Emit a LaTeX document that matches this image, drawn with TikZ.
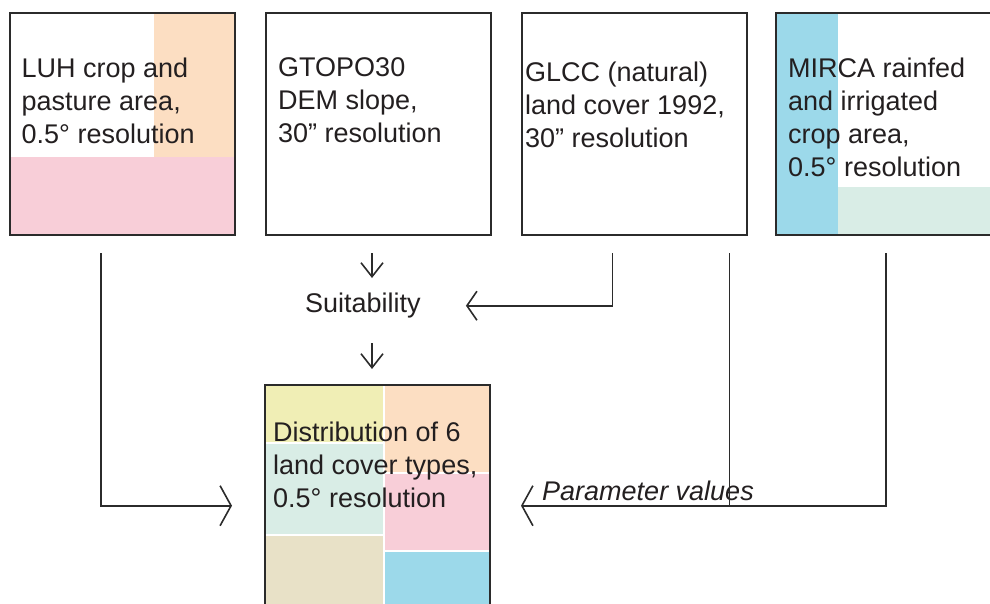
\documentclass[tikz,border=0pt]{standalone}
\usepackage{fontspec}
\setmainfont{Liberation Sans}
\usetikzlibrary{arrows.meta,calc}
\definecolor{txt}{HTML}{231F20}
\definecolor{ln}{HTML}{2B2B2B}
\definecolor{peach}{HTML}{FCDEC2}
\definecolor{pinkc}{HTML}{F8CED8}
\definecolor{bluec}{HTML}{9CD9EA}
\definecolor{mint}{HTML}{D9EDE6}
\definecolor{yel}{HTML}{F0EEB5}
\definecolor{tanc}{HTML}{E8E1C7}
\begin{document}
\begin{tikzpicture}[x=1pt,y=-1pt,
  box/.style={draw=ln, line width=2pt, minimum width=225pt, minimum height=222pt, inner sep=0pt},
  lbl/.style={text=txt, font=\fontsize{27}{33}\selectfont, align=left, anchor=base west, inner sep=0pt},
  conn/.style={draw=ln, line width=1.6pt},
  bigtip/.style={-{Straight Barb[length=11pt,width=40pt]}},
  midtip/.style={-{Straight Barb[length=10pt,width=29pt]}},
  smalltip/.style={-{Straight Barb[length=14pt,width=22pt]}}
]
\useasboundingbox (0,0) rectangle (990,603);
\clip (0,0) rectangle (990,603);
% colour patches
\fill[peach] (154,14) rectangle (234,156.5);
\fill[pinkc] (11,157) rectangle (234,234);
\fill[bluec] (777,14) rectangle (838,234);
\fill[mint] (838,187) rectangle (1000,234);
\fill[yel] (266,386) rectangle (383,442);
\fill[mint] (266,444) rectangle (383,534);
\fill[tanc] (266,536) rectangle (383,610);
\fill[peach] (385,386) rectangle (489,472);
\fill[pinkc] (385,474) rectangle (489,550);
\fill[bluec] (385,552) rectangle (489,610);
% boxes
\node[box] (luh) at (122.5,124) {};
\node[box] (gtopo) at (378,124) {};
\node[box] (glcc) at (634,124) {};
\node[box] (mirca) at (888.5,124) {};
\node[box, minimum height=241.4pt] (dist) at (377.5,505.7) {};
% texts (anchored at the baseline of the last line)
\node[lbl] (luht) at (21.5,143) {LUH crop and\\pasture area,\\0.5° resolution};
\node[lbl] (gtopot) at (278,142.5) {GTOPO30\\DEM slope,\\30” resolution};
\node[lbl] (glcct) at (525,147) {GLCC (natural)\\land cover 1992,\\30” resolution};
\node[lbl] (mircat) at (788,176) {MIRCA rainfed\\and irrigated\\crop area,\\0.5° resolution};
\node[lbl] (distt) at (273,507) {Distribution of 6\\land cover types,\\0.5° resolution};
\node[lbl] (suit) at (305,312.7) {Suitability};
\node[lbl, font=\fontsize{27}{33}\selectfont\itshape] (param) at (542,500) {Parameter values};
% connector end points
\coordinate (pv) at ($(glcc.south east)+(-18,17)$);
% connectors
\draw[conn, bigtip] ($(luh.south west)+(92,17)$) |- ($(dist.west)+(-32,0)$);
\draw[conn, smalltip] ($(gtopo.south)+(-6,17)$) -- ++(0,25);
\draw[conn, smalltip] ($(dist.north)+(-5.5,-41)$) -- ($(dist.north)+(-5.5,-15)$);
\draw[conn, midtip] ($(glcc.south west)+(92,17)$) |- ($(suit.east)+(45,0)$);
\draw[conn] (pv) -- (pv |- dist.east);
\draw[conn, bigtip] ($(mirca.south west)+(111,17)$) |- ($(dist.east)+(30,0)$);
\end{tikzpicture}
\end{document}
